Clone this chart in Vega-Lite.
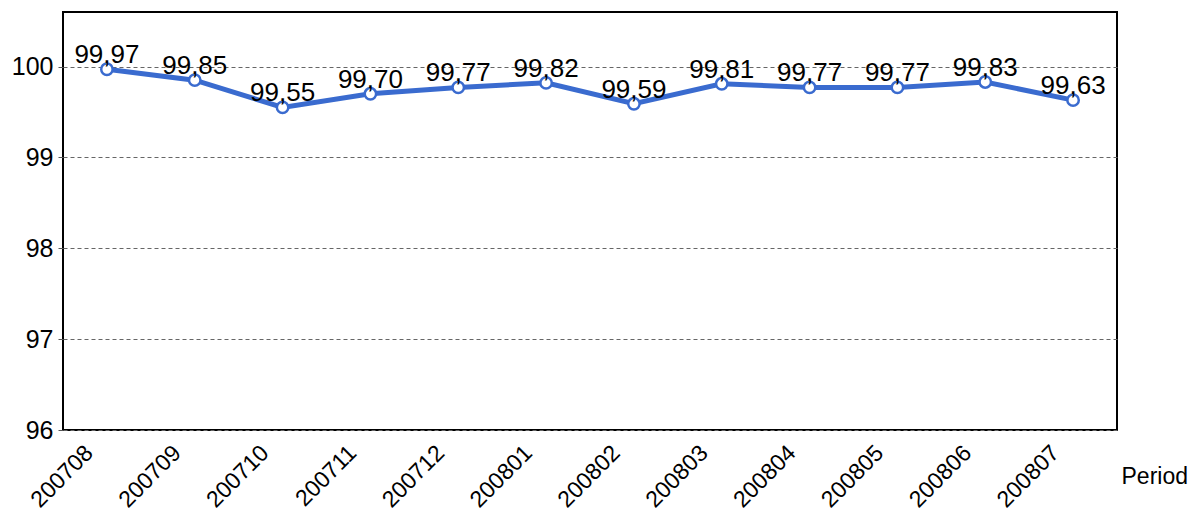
{
  "$schema": "https://vega.github.io/schema/vega-lite/v6.json",
  "width": 1054,
  "height": 418,
  "autosize": {"type": "none"},
  "padding": {"left": 63, "top": 12, "right": 73, "bottom": 83},
  "background": "white",
  "config": {
    "locale": {"number": {"decimal": ",", "thousands": ".", "grouping": [3], "currency": ["", " €"]}},
    "font": "Liberation Sans",
    "view": {"stroke": "black", "strokeWidth": 2}
  },
  "data": {
    "values": [
      {"period": "200708", "value": 99.97},
      {"period": "200709", "value": 99.85},
      {"period": "200710", "value": 99.55},
      {"period": "200711", "value": 99.70},
      {"period": "200712", "value": 99.77},
      {"period": "200801", "value": 99.82},
      {"period": "200802", "value": 99.59},
      {"period": "200803", "value": 99.81},
      {"period": "200804", "value": 99.77},
      {"period": "200805", "value": 99.77},
      {"period": "200806", "value": 99.83},
      {"period": "200807", "value": 99.63}
    ]
  },
  "encoding": {
    "x": {
      "field": "period",
      "type": "ordinal",
      "sort": null,
      "scale": {"type": "point", "padding": 0.5},
      "axis": {
        "title": "Period",
        "titleFont": "Liberation Sans",
        "titleFontSize": 23,
        "titleFontWeight": "normal",
        "titleColor": "black",
        "titleAnchor": "start",
        "titleAlign": "left",
        "titleBaseline": "alphabetic",
        "titleX": 1058,
        "titleY": 53,
        "labelAngle": -45,
        "labelAlign": "right",
        "labelBaseline": "middle",
        "labelFontSize": 23,
        "labelColor": "black",
        "labelPadding": 19,
        "labelOffset": -18,
        "ticks": false,
        "domain": false,
        "grid": false
      }
    },
    "y": {
      "field": "value",
      "type": "quantitative",
      "scale": {"domain": [96, 100.6], "nice": false, "zero": false},
      "axis": {
        "title": null,
        "values": [96, 97, 98, 99, 100],
        "format": "d",
        "labelFontSize": 25,
        "labelColor": "black",
        "labelPadding": 5,
        "tickSize": 5,
        "tickColor": "#555555",
        "domain": false,
        "grid": true,
        "gridColor": "#666666",
        "gridDash": [4, 3],
        "gridWidth": 1
      }
    }
  },
  "layer": [
    {
      "mark": {"type": "line", "color": "#3A6BCF", "strokeWidth": 5}
    },
    {
      "mark": {"type": "point", "shape": "circle", "size": 130, "filled": false, "fill": "white", "fillOpacity": 1, "stroke": "#3A6BCF", "strokeWidth": 2.5, "opacity": 1}
    },
    {
      "mark": {"type": "text", "fontSize": 26, "color": "black", "baseline": "alphabetic", "align": "center", "dy": -6},
      "encoding": {
        "text": {"field": "value", "type": "quantitative", "format": ".2f"}
      }
    }
  ]
}
